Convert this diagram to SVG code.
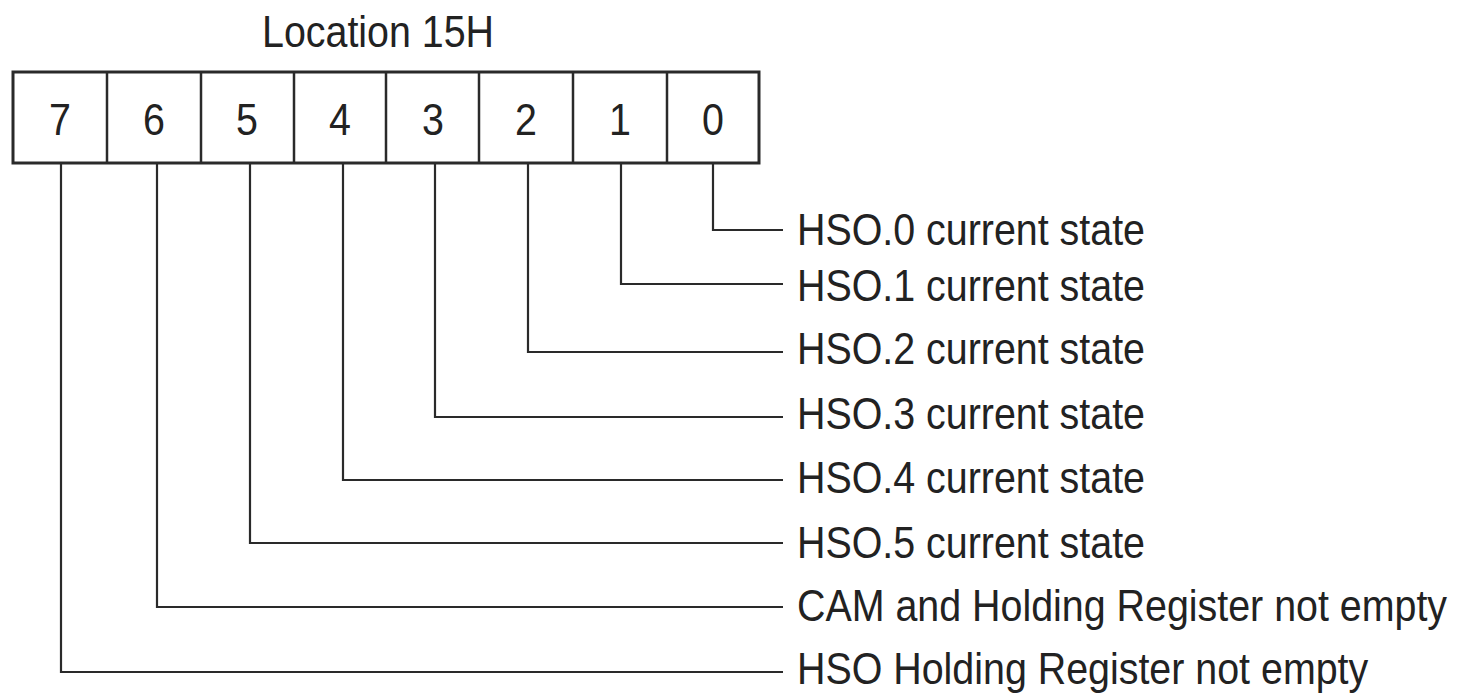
<svg xmlns="http://www.w3.org/2000/svg" width="1461" height="693" viewBox="0 0 1461 693">
  <style>
    .box { fill: none; stroke: #2a2a2a; stroke-width: 3; }
    .div { stroke: #2a2a2a; stroke-width: 2.5; }
    .lead { fill: none; stroke: #2a2a2a; stroke-width: 2.2; }
    /* narrow-looking lettering: normal width, stretched vertically */
    .t { font-family: "Liberation Sans", Arial, sans-serif; font-size: 39.4px; fill: #222; }
    .d { font-family: "Liberation Sans", Arial, sans-serif; font-size: 39.4px; fill: #222; text-anchor: middle; }
  </style>
  <rect width="1461" height="693" fill="#ffffff"/>

  <!-- register title -->
  <g id="title">
    <text class="t" transform="translate(262,47) scale(1,1.13)">Location 15H</text>
  </g>

  <!-- 8-bit register -->
  <g id="register">
    <rect class="box" x="13" y="72" width="746" height="91"/>
    <line class="div" x1="107" y1="72" x2="107" y2="163"/>
    <line class="div" x1="201" y1="72" x2="201" y2="163"/>
    <line class="div" x1="294" y1="72" x2="294" y2="163"/>
    <line class="div" x1="386" y1="72" x2="386" y2="163"/>
    <line class="div" x1="479" y1="72" x2="479" y2="163"/>
    <line class="div" x1="573" y1="72" x2="573" y2="163"/>
    <line class="div" x1="667" y1="72" x2="667" y2="163"/>
  </g>
  <g id="bit7"><text class="d" transform="translate(60,135) scale(1,1.13)">7</text></g>
  <g id="bit6"><text class="d" transform="translate(154,135) scale(1,1.13)">6</text></g>
  <g id="bit5"><text class="d" transform="translate(247,135) scale(1,1.13)">5</text></g>
  <g id="bit4"><text class="d" transform="translate(340,135) scale(1,1.13)">4</text></g>
  <g id="bit3"><text class="d" transform="translate(433,135) scale(1,1.13)">3</text></g>
  <g id="bit2"><text class="d" transform="translate(526,135) scale(1,1.13)">2</text></g>
  <g id="bit1"><text class="d" transform="translate(620,135) scale(1,1.13)">1</text></g>
  <g id="bit0"><text class="d" transform="translate(713,135) scale(1,1.13)">0</text></g>

  <!-- leaders from each bit to its description -->
  <g id="connectors">
    <polyline class="lead" points="713,163 713,230 783,230"/>
    <polyline class="lead" points="621,163 621,284 783,284"/>
    <polyline class="lead" points="528,163 528,352 783,352"/>
    <polyline class="lead" points="435,163 435,417 783,417"/>
    <polyline class="lead" points="343,163 343,480 783,480"/>
    <polyline class="lead" points="250,163 250,543 783,543"/>
    <polyline class="lead" points="157,163 157,607 783,607"/>
    <polyline class="lead" points="61,163 61,672 783,672"/>
  </g>

  <!-- bit descriptions -->
  <g id="label0"><text class="t" transform="translate(797,245) scale(1,1.13)">HSO.0 current state</text></g>
  <g id="label1"><text class="t" transform="translate(797,301) scale(1,1.13)">HSO.1 current state</text></g>
  <g id="label2"><text class="t" transform="translate(797,364) scale(1,1.13)">HSO.2 current state</text></g>
  <g id="label3"><text class="t" transform="translate(797,429) scale(1,1.13)">HSO.3 current state</text></g>
  <g id="label4"><text class="t" transform="translate(797,493) scale(1,1.13)">HSO.4 current state</text></g>
  <g id="label5"><text class="t" transform="translate(797,558) scale(1,1.13)">HSO.5 current state</text></g>
  <g id="label6"><text class="t" transform="translate(797,621) scale(1,1.13)">CAM and Holding Register not empty</text></g>
  <g id="label7"><text class="t" transform="translate(797,684) scale(1,1.13)">HSO Holding Register not empty</text></g>
</svg>
